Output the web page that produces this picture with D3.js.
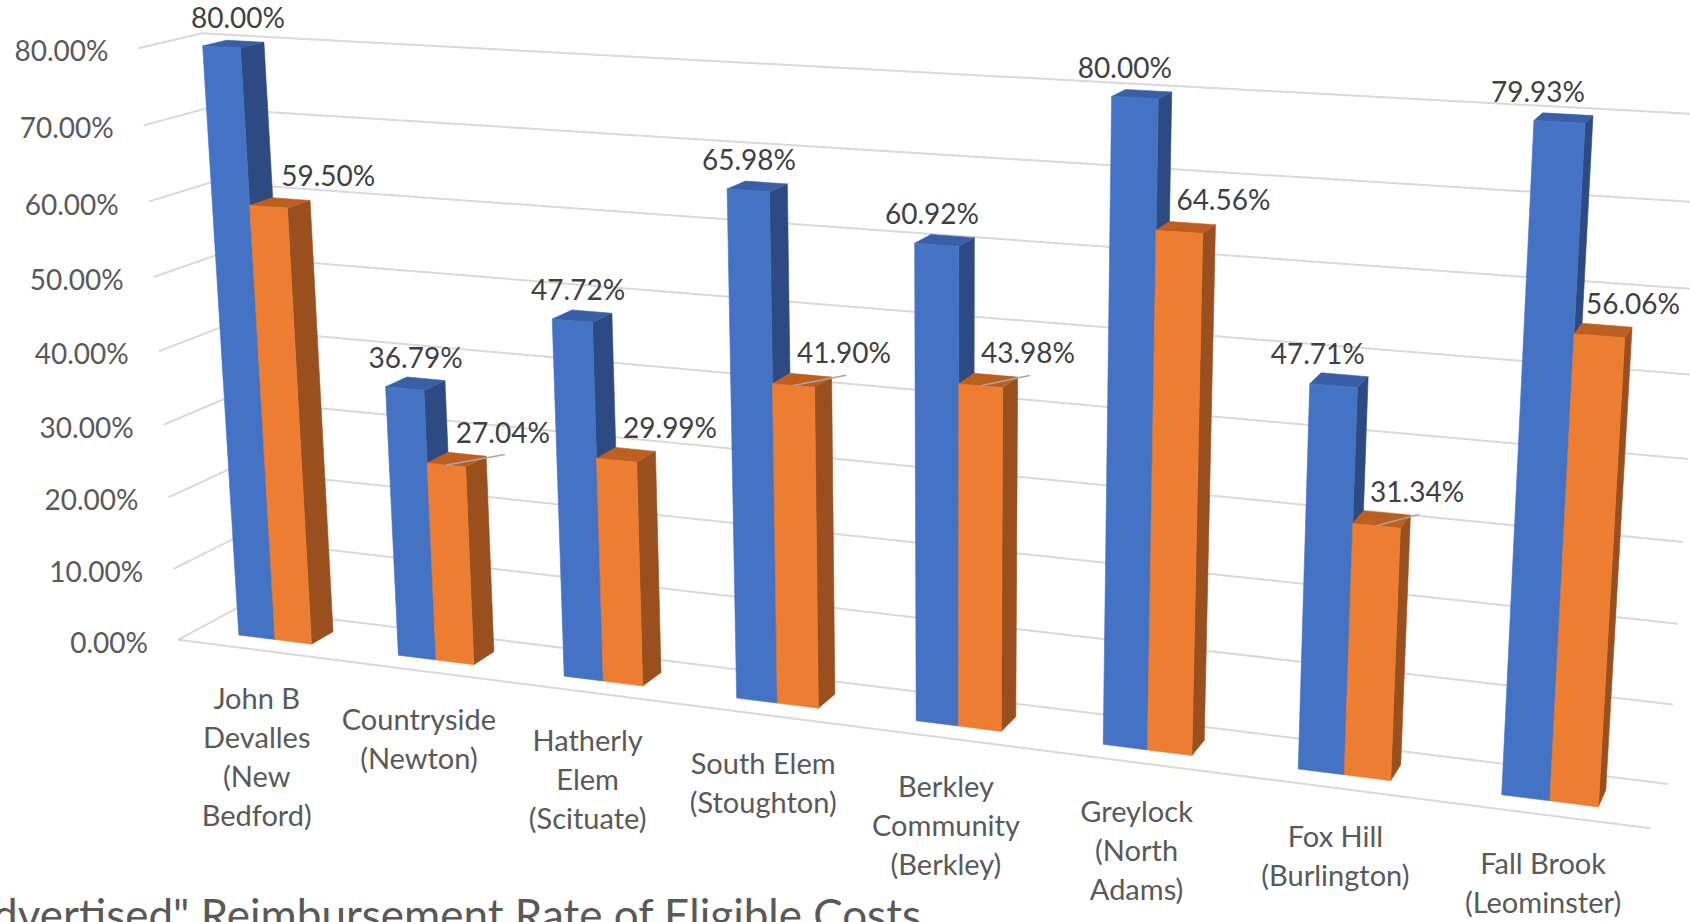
<!DOCTYPE html>
<html lang="en">
<head>
<meta charset="UTF-8">
<title>Advertised Reimbursement Rate of Eligible Costs</title>
<script src="https://d3js.org/d3.v7.min.js"></script>
<style>
  body { margin: 0; background: #fff; }
  svg { display: block; }
  text { font-family: Lato, "Open Sans", sans-serif; }
</style>
</head>
<body>
<svg id="chart" width="1690" height="922"></svg>
<script>
// ---- data ----
const categories = ["John B Devalles (New Bedford)", "Countryside (Newton)", "Hatherly Elem (Scituate)",
  "South Elem (Stoughton)", "Berkley Community (Berkley)", "Greylock (North Adams)",
  "Fox Hill (Burlington)", "Fall Brook (Leominster)"];
const categoryLines = [["John B", "Devalles", "(New", "Bedford)"], ["Countryside", "(Newton)"],
  ["Hatherly", "Elem", "(Scituate)"], ["South Elem", "(Stoughton)"], ["Berkley", "Community", "(Berkley)"],
  ["Greylock", "(North", "Adams)"], ["Fox Hill", "(Burlington)"], ["Fall Brook", "(Leominster)"]];
const advertised = [0.8000, 0.3679, 0.4772, 0.6598, 0.6092, 0.8000, 0.4771, 0.7993];
const actual = [0.5950, 0.2704, 0.2999, 0.4190, 0.4398, 0.6456, 0.3134, 0.5606];
const yTicks = [0, 0.1, 0.2, 0.3, 0.4, 0.5, 0.6, 0.7, 0.8];
const actualLeader = [false, true, false, true, true, false, true, false];
const title = "\"Advertised\" Reimbursement Rate of Eligible Costs";

// calibration points: world (x, y, z) -> screen pixel, used to fit the perspective view
const anchors = [
  { w: [0, 0, 0], p: [178, 639] },
  { w: [0, 1, 0], p: [138, 48] },
  { w: [0, 1, 1], p: [202, 33] },
  { w: [0, 0, 1], p: [237, 608] },
  { w: [8, 0, 0], p: [1650, 829] },
  { w: [8, 0, 1], p: [1667, 784] },
  { w: [0.27, 1, 0.31], p: [202, 47] },
  { w: [0.5, 1, 0.31], p: [242, 48] },
  { w: [0.27, 0, 0.31], p: [237, 635] },
  { w: [0.73, 0, 0.31], p: [313, 644] },
  { w: [0.73, 0, 0.69], p: [334, 632] },
  { w: [7.27, 1, 0.31], p: [1533, 119] },
  { w: [7.5, 1, 0.31], p: [1586, 123] },
  { w: [7.5, 1, 0.69], p: [1593, 115] },
  { w: [7.5, 0, 0.31], p: [1549, 801] },
  { w: [7.73, 0, 0.31], p: [1599, 807] },
  { w: [7.73, 0, 0.69], p: [1607, 790] }
];

const colors = {
  blue: { front: "#4472c4", top: "#3a5fa6", side: "#2d4b82" },
  orange: { front: "#ed7d31", top: "#bc5f21", side: "#9a501e" }
};

// least squares fit of a 3x4 projective camera
function fitCamera(pts) {
  const cx = 845, cy = 461, s = 1000;
  const rows = [], rhs = [];
  pts.forEach(({ w, p }) => {
    const [X, Y, Z] = w, u = (p[0] - cx) / s, v = (p[1] - cy) / s;
    rows.push([X, Y, Z, 1, 0, 0, 0, 0, -u * X, -u * Y, -u * Z]); rhs.push(u);
    rows.push([0, 0, 0, 0, X, Y, Z, 1, -v * X, -v * Y, -v * Z]); rhs.push(v);
  });
  const n = 11;
  const M = d3.range(n).map(i => d3.range(n + 1).map(j =>
    d3.sum(rows, (r, k) => r[i] * (j < n ? r[j] : rhs[k]))));
  for (let c = 0; c < n; c++) {
    let piv = c;
    for (let r = c + 1; r < n; r++) if (Math.abs(M[r][c]) > Math.abs(M[piv][c])) piv = r;
    [M[c], M[piv]] = [M[piv], M[c]];
    for (let r = 0; r < n; r++) {
      if (r === c) continue;
      const f = M[r][c] / M[c][c];
      for (let k = c; k <= n; k++) M[r][k] -= f * M[c][k];
    }
  }
  const h = M.map((r, i) => r[n] / r[i]);
  return ([X, Y, Z]) => {
    const w = h[8] * X + h[9] * Y + h[10] * Z + 1;
    return [cx + s * (h[0] * X + h[1] * Y + h[2] * Z + h[3]) / w,
            cy + s * (h[4] * X + h[5] * Y + h[6] * Z + h[7]) / w];
  };
}
const project = fitCamera(anchors);

// scales into world units
const x = d3.scaleBand().domain(categories).range([0, categories.length]);
const s = d3.scaleBand().domain(["advertised", "actual"]).range([0.27, 0.73]);
const y = d3.scaleLinear().domain([0, 0.8]).range([0, 1]);
const depth = [0.31, 0.69];
const fmt = d3.format(".2%");
const W = 1690;

const svg = d3.select("#chart");
const line = d3.line();
const poly = d3.line().curve(d3.curveLinearClosed);

// gridlines: side wall + back wall
const grid = svg.append("g").attr("fill", "none").attr("stroke", "#d9d9d9").attr("stroke-width", 2);
yTicks.forEach(t => {
  const yy = y(t);
  grid.append("path").attr("d", line([project([0, yy, 0]), project([0, yy, 1]), project([categories.length, yy, 1])]));
});
grid.append("path").attr("d", line([project([0, 0, 0]), project([categories.length, 0, 0])]));

// y axis labels
svg.append("g").attr("fill", "#595959").style("font-size", "28px").attr("text-anchor", "end")
  .selectAll("text").data(yTicks).join("text")
  .attr("x", d => project([0, y(d), 0])[0] - 30)
  .attr("y", d => project([0, y(d), 0])[1] + 2)
  .attr("dominant-baseline", "central")
  .text(d => fmt(d));

// bars
const bars = [];
categories.forEach((c, i) => {
  [["advertised", advertised[i], colors.blue], ["actual", actual[i], colors.orange]].forEach(([key, v, col]) => {
    bars.push({ cat: c, i, key, v, col, x0: x(c) + s(key), x1: x(c) + s(key) + s.bandwidth() });
  });
});
const barG = svg.append("g");
bars.forEach(b => {
  const h = y(b.v), [z0, z1] = depth;
  const g = barG.append("g");
  const face = (pts, fill) => g.append("path").attr("d", poly(pts.map(project)))
    .attr("fill", fill).attr("stroke", fill).attr("stroke-width", 0.6).attr("stroke-linejoin", "round");
  face([[b.x1, 0, z0], [b.x1, 0, z1], [b.x1, h, z1], [b.x1, h, z0]], b.col.side);
  face([[b.x0, h, z0], [b.x1, h, z0], [b.x1, h, z1], [b.x0, h, z1]], b.col.top);
  face([[b.x0, 0, z0], [b.x1, 0, z0], [b.x1, h, z0], [b.x0, h, z0]], b.col.front);
});

// data labels (labels drift slightly left across the chart, as in the original)
const drift = i => 4.5 - 4.3 * i;
const labG = svg.append("g").attr("fill", "#404040").style("font-size", "28px")
  .attr("text-anchor", "middle");
bars.forEach(b => {
  const top = project([(b.x0 + b.x1) / 2, y(b.v), (depth[0] + depth[1]) / 2]);
  let lx = top[0], ly = top[1] - 27;
  const t = labG.append("text").attr("dominant-baseline", "central").text(fmt(b.v));
  const half = t.node().getComputedTextLength() / 2;
  if (b.key === "actual") {
    lx += 46 + drift(b.i) / 2; ly -= 1;
    lx = Math.min(lx, W - 10 - half);   // keep inside the chart area
    if (actualLeader[b.i]) {
      const start = project([(b.x0 + b.x1) / 2, y(b.v), depth[0]]);
      labG.insert("path", "text").attr("d", line([start, [lx + 2, ly + 23]]))
        .attr("stroke", "#a6a6a6").attr("stroke-width", 1.5).attr("fill", "none");
    }
  } else {
    lx += drift(b.i);
  }
  t.attr("x", lx).attr("y", ly);
});

// category labels
const catG = svg.append("g").attr("fill", "#595959").style("font-size", "29px").attr("text-anchor", "middle");
categories.forEach((c, i) => {
  const [px, py] = project([x(c) + x.bandwidth() / 2, 0, 0]);
  catG.append("text").attr("x", px).attr("y", py + 47).attr("dominant-baseline", "central")
    .selectAll("tspan").data(categoryLines[i]).join("tspan")
    .attr("x", px).attr("dy", (d, k) => k === 0 ? 0 : 39).text(d => d);
});

// chart title (runs off the bottom-left edge like the original capture)
svg.append("text").attr("x", 921).attr("y", 931).attr("text-anchor", "end")
  .attr("fill", "#595959").style("font-size", "44px").text(title);
</script>
</body>
</html>
